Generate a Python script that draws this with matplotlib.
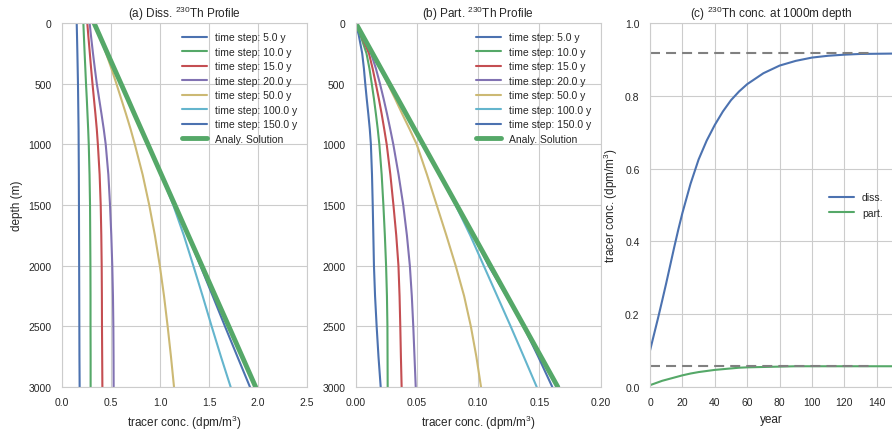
import matplotlib
matplotlib.use("Agg")
import matplotlib.pyplot as plt
import seaborn as sns

# depth levels (m) where the profiles were read
depth = [0, 100, 250, 375, 500, 625, 750, 875, 1000, 1250, 1500, 1750, 2000, 2250, 2500, 2750, 3000]
labels = ["time step: 5.0 y", "time step: 10.0 y", "time step: 15.0 y",
          "time step: 20.0 y", "time step: 50.0 y", "time step: 100.0 y",
          "time step: 150.0 y"]

# (a) dissolved profiles
diss = [
    [0.150, 0.153, 0.157, 0.160, 0.163, 0.165, 0.167, 0.169, 0.170, 0.172, 0.173, 0.174, 0.175, 0.176, 0.177, 0.178, 0.180],
    [0.218, 0.223, 0.231, 0.238, 0.245, 0.253, 0.260, 0.267, 0.273, 0.281, 0.286, 0.288, 0.290, 0.291, 0.291, 0.292, 0.292],
    [0.258, 0.268, 0.284, 0.297, 0.311, 0.326, 0.341, 0.355, 0.366, 0.384, 0.395, 0.401, 0.405, 0.407, 0.408, 0.410, 0.412],
    [0.282, 0.295, 0.316, 0.335, 0.355, 0.379, 0.403, 0.426, 0.446, 0.473, 0.490, 0.503, 0.513, 0.520, 0.524, 0.526, 0.527],
    [0.327, 0.381, 0.450, 0.504, 0.555, 0.604, 0.653, 0.700, 0.743, 0.823, 0.890, 0.948, 0.998, 1.041, 1.078, 1.112, 1.143],
    [0.327, 0.382, 0.465, 0.533, 0.602, 0.671, 0.740, 0.808, 0.877, 1.012, 1.135, 1.243, 1.340, 1.435, 1.527, 1.622, 1.721],
    [0.327, 0.382, 0.465, 0.533, 0.602, 0.671, 0.740, 0.808, 0.877, 1.014, 1.152, 1.285, 1.412, 1.538, 1.663, 1.790, 1.918],
]
diss_analy = [0.327, 0.382, 0.464, 0.533, 0.602, 0.671, 0.739, 0.808, 0.877, 1.014, 1.152, 1.289, 1.427,
              1.564, 1.702, 1.839, 1.976]

# (b) particulate profiles
part = [
    [0.0, 0.0025, 0.0053, 0.0067, 0.0078, 0.0090, 0.0103, 0.0115, 0.0124, 0.0133, 0.0139, 0.0144, 0.0149, 0.0158, 0.0171, 0.0186, 0.0204],
    [0.0, 0.0038, 0.0088, 0.0112, 0.0131, 0.0149, 0.0165, 0.0180, 0.0193, 0.0212, 0.0226, 0.0238, 0.0248, 0.0255, 0.0259, 0.0260, 0.0261],
    [0.0, 0.0045, 0.0108, 0.0138, 0.0164, 0.0189, 0.0212, 0.0233, 0.0253, 0.0283, 0.0308, 0.0331, 0.0349, 0.0358, 0.0364, 0.0369, 0.0375],
    [0.0, 0.0052, 0.0125, 0.0165, 0.0198, 0.0228, 0.0256, 0.0282, 0.0307, 0.0350, 0.0388, 0.0418, 0.0442, 0.0458, 0.0470, 0.0480, 0.0490],
    [0.0, 0.0055, 0.0136, 0.0200, 0.0262, 0.0322, 0.0380, 0.0440, 0.0498, 0.0582, 0.0661, 0.0740, 0.0816, 0.0885, 0.0940, 0.0985, 0.1023],
    [0.0, 0.0055, 0.0137, 0.0206, 0.0275, 0.0344, 0.0412, 0.0481, 0.0550, 0.0684, 0.0815, 0.0935, 0.1045, 0.1155, 0.1265, 0.1372, 0.1478],
    [0.0, 0.0055, 0.0137, 0.0206, 0.0275, 0.0344, 0.0412, 0.0481, 0.0550, 0.0687, 0.0825, 0.0960, 0.1085, 0.1230, 0.1370, 0.1490, 0.1605],
]
part_analy = [0.0, 0.0055, 0.01375, 0.0206, 0.0275, 0.0344, 0.04125, 0.0481, 0.055, 0.06875, 0.0825, 0.09625,
              0.110, 0.12375, 0.1375, 0.15125, 0.165]

# (c) time series at 1000 m
year = [0, 2.5, 5, 7.5, 10, 12.5, 15, 17.5, 20, 25, 30, 35, 40, 45, 50, 55, 60, 70, 80, 90, 100, 110, 120, 130, 150]
diss_1000 = [0.10, 0.145, 0.19, 0.237, 0.285, 0.335, 0.385, 0.433, 0.478, 0.558, 0.625, 0.677, 0.72, 0.757,
             0.788, 0.812, 0.832, 0.862, 0.883, 0.896, 0.905, 0.910, 0.913, 0.915, 0.916]
part_1000 = [0.005, 0.009, 0.013, 0.017, 0.020, 0.023, 0.026, 0.029, 0.032, 0.037, 0.041, 0.044, 0.047,
             0.049, 0.051, 0.053, 0.054, 0.055, 0.056, 0.057, 0.057, 0.057, 0.057, 0.057, 0.057]
diss_steady = 0.918
part_steady = 0.058
steady_years = [0, 136]

sns.set_style("whitegrid")
plt.rcParams['font.family'] = ['Liberation Sans', 'DejaVu Sans']
plt.rcParams['mathtext.default'] = 'regular'
plt.rcParams['text.color'] = '.15'
plt.rcParams['axes.labelcolor'] = '.15'
plt.rcParams['xtick.color'] = '.15'
plt.rcParams['ytick.color'] = '.15'

colors = ["#4C72B0", "#55A868", "#C44E52", "#8172B2", "#CCB974", "#64B5CD", "#4C72B0"]
green = "#55A868"

fig = plt.figure(figsize=(8.92, 4.31), dpi=100)
bottom = 1 - 388 / 431
height = (388 - 24) / 431
ax1 = fig.add_axes([62 / 892, bottom, 245 / 892, height])
ax2 = fig.add_axes([355.7 / 892, bottom, 245 / 892, height])
ax3 = fig.add_axes([650 / 892, bottom, 243 / 892, height])

for ax, prof, analy, title, xmax, step in [
        (ax1, diss, diss_analy, "(a) Diss. $^{230}$Th Profile", 2.5, 0.5),
        (ax2, part, part_analy, "(b) Part. $^{230}$Th Profile", 0.2, 0.05)]:
    for i in range(len(prof)):
        ax.plot(prof[i], depth, color=colors[i], lw=1.5, label=labels[i])
    ax.plot(analy, depth, color=green, lw=3.5, label="Analy. Solution")
    ax.set_ylim(3000, 0)
    ax.set_xlim(0, xmax)
    ax.set_yticks(range(0, 3001, 500))
    ax.xaxis.set_major_locator(plt.MultipleLocator(step))
    ax.set_title(title, fontsize=8.5, pad=4)
    ax.set_xlabel("tracer conc. (dpm/m$^3$)", fontsize=8.5)
    ax.legend(loc="upper right", frameon=False, fontsize=7.5, handlelength=2.4,
              labelspacing=0.43)
    ax.tick_params(labelsize=7.5, pad=4)

ax1.xaxis.set_major_formatter(plt.FormatStrFormatter("%.1f"))
ax2.xaxis.set_major_formatter(plt.FormatStrFormatter("%.2f"))
ax1.set_ylabel("depth (m)", fontsize=8.5)

ax3.plot(year, diss_1000, color=colors[0], lw=1.5, label="diss.")
ax3.plot(year, part_1000, color=green, lw=1.5, label="part.")
ax3.plot(steady_years, [diss_steady] * 2, color="gray", lw=1.5, dashes=(4.8, 2.9))
ax3.plot(steady_years, [part_steady] * 2, color="gray", lw=1.5, dashes=(4.8, 2.9))
ax3.set_xlim(0, 150)
ax3.set_ylim(0, 1.0)
ax3.xaxis.set_major_locator(plt.MultipleLocator(20))
ax3.yaxis.set_major_locator(plt.MultipleLocator(0.2))
ax3.set_title("(c) $^{230}$Th conc. at 1000m depth", fontsize=8.5, pad=4)
ax3.set_xlabel("year", fontsize=8.5)
ax3.set_ylabel("tracer conc. (dpm/m$^3$)", fontsize=8.5)
ax3.legend(loc="center right", frameon=False, fontsize=7.5, handlelength=2.4)
ax3.tick_params(labelsize=7.5, pad=4)

plt.savefig("out.png", dpi=100)
